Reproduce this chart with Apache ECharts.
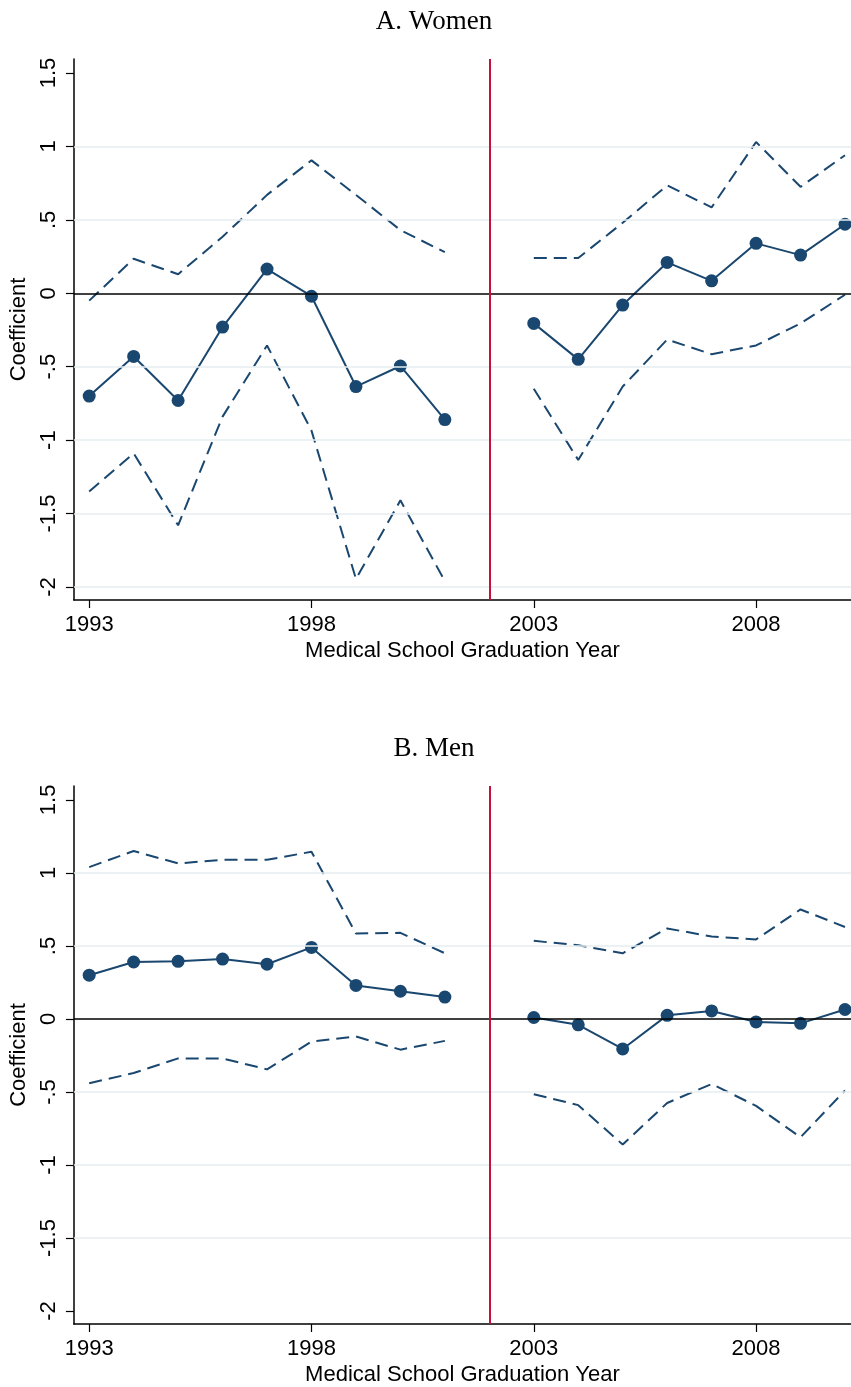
<!DOCTYPE html>
<html>
<head>
<meta charset="utf-8">
<script src="https://cdn.jsdelivr.net/npm/echarts@6/dist/echarts.min.js"></script>
<style>
html,body{margin:0;padding:0;background:#fff;}
#chart{width:851px;height:1387px;}
</style>
</head>
<body>
<div id="chart"></div>
<script>
// ---- data ----
const years = [1993,1994,1995,1996,1997,1998,1999,2000,2001,2002,2003,2004,2005,2006,2007,2008,2009,2010];
const womenCoef  = [-0.70,-0.43,-0.73,-0.23,0.165,-0.02,-0.635,-0.495,-0.86,null,-0.205,-0.45,-0.08,0.21,0.085,0.34,0.26,0.47];
const womenUpper = [-0.05,0.235,0.13,0.385,0.67,0.905,0.67,0.43,0.28,null,0.24,0.24,0.48,0.735,0.585,1.03,0.725,0.94];
const womenLower = [-1.35,-1.09,-1.58,-0.84,-0.355,-0.935,-1.945,-1.41,-1.96,null,-0.65,-1.135,-0.635,-0.315,-0.415,-0.355,-0.205,-0.01];
const menCoef  = [0.30,0.39,0.395,0.41,0.375,0.49,0.23,0.19,0.15,null,0.01,-0.04,-0.205,0.025,0.055,-0.02,-0.03,0.065];
const menUpper = [1.04,1.15,1.065,1.09,1.09,1.145,0.585,0.59,0.45,null,0.535,0.505,0.45,0.62,0.565,0.545,0.75,0.63];
const menLower = [-0.44,-0.37,-0.27,-0.27,-0.345,-0.155,-0.12,-0.21,-0.15,null,-0.515,-0.59,-0.86,-0.575,-0.445,-0.595,-0.81,-0.49];
const xTickValues = [1993,1998,2003,2008];
const yTickValues = [1.5,1,0.5,0,-0.5,-1,-1.5,-2];
const yTickLabels = ['1.5','1','.5','0','-.5','-1','-1.5','-2'];
const womenGridValues = [1,0.5,-0.5,-1,-1.5,-2];
const menGridValues = [1,0.5,-0.5,-1,-1.5];
const cutoffYear = 2002;
const panelTitles = ['A. Women','B. Men'];
const xAxisTitle = 'Medical School Graduation Year';
const yAxisTitle = 'Coefficient';

// ---- styling ----
const NAVY = '#1a476f';
const RED = '#c3103c';
const GRIDC = '#e6eef0';
const SANS = '"Liberation Sans", Arial, Helvetica, sans-serif';
const SERIF = '"Liberation Serif", "DejaVu Serif", serif';
const PANEL_TOPS = [59, 786];
const PANEL_H = 541;

const pairs = vals => years.map((y,i) => [y, vals[i]]);

function xAxisFor(idx){
  return {
    type:'value', gridIndex:idx, min:1992.656, max:2010.135,
    axisLine:{show:true, onZero:false, lineStyle:{color:'#000', width:1.5}},
    axisTick:{show:true, length:8, customValues:xTickValues, lineStyle:{color:'#000', width:1.2}},
    axisLabel:{show:true, customValues:xTickValues, margin:14, fontSize:22, fontFamily:SANS, color:'#000',
      formatter: v => String(v)},
    splitLine:{show:false},
    name:xAxisTitle, nameLocation:'middle', nameGap:40,
    nameTextStyle:{fontSize:22, fontFamily:SANS, color:'#000'}
  };
}
function yAxisFor(idx){
  return {
    type:'value', gridIndex:idx, min:-2.0885, max:1.5953,
    axisLine:{show:true, onZero:false, lineStyle:{color:'#000', width:1.5}},
    axisTick:{show:true, length:8, customValues:yTickValues, lineStyle:{color:'#000', width:1.2}},
    axisLabel:{show:true, customValues:yTickValues, rotate:90, margin:14, fontSize:22, fontFamily:SANS, color:'#000',
      formatter: v => { const k = yTickValues.findIndex(t => Math.abs(t - v) < 1e-6); return k >= 0 ? yTickLabels[k] : ''; }},
    splitLine:{show:false},
    name:yAxisTitle, nameLocation:'middle', nameGap:35,
    nameTextStyle:{fontSize:22, fontFamily:SANS, color:'#000'}
  };
}
function guideSeries(idx, gridVals){
  const data = gridVals.map(v => ({yAxis:v, lineStyle:{color:GRIDC, width:1.5, type:'solid'}}));
  data.push({yAxis:0, lineStyle:{color:'#000', width:1.5, type:'solid'}});
  data.push({xAxis:cutoffYear, lineStyle:{color:RED, width:2, type:'solid'}});
  return {
    type:'line', xAxisIndex:idx, yAxisIndex:idx, data:[], silent:true, z:1,
    markLine:{silent:true, symbol:['none','none'], label:{show:false}, animation:false, data:data}
  };
}
function ciSeries(idx, vals){
  return {type:'line', xAxisIndex:idx, yAxisIndex:idx, data:pairs(vals), showSymbol:false, symbol:'none',
    connectNulls:false, z:3, lineStyle:{color:NAVY, width:2, type:[13,7]}, animation:false};
}
function coefSeries(idx, vals){
  return {type:'line', xAxisIndex:idx, yAxisIndex:idx, data:pairs(vals), symbol:'circle', symbolSize:13,
    connectNulls:false, z:4, itemStyle:{color:NAVY}, lineStyle:{color:NAVY, width:2}, animation:false};
}

const chart = echarts.init(document.getElementById('chart'), null, {renderer:'canvas'});
chart.setOption({
  backgroundColor:'#fff',
  animation:false,
  title:[
    {text:panelTitles[0], left:429, top:3, textAlign:'center', textStyle:{fontFamily:SERIF, fontSize:27, fontWeight:'normal', color:'#000'}},
    {text:panelTitles[1], left:429, top:730, textAlign:'center', textStyle:{fontFamily:SERIF, fontSize:27, fontWeight:'normal', color:'#000'}}
  ],
  grid:[
    {left:73, right:0, top:PANEL_TOPS[0], height:PANEL_H, containLabel:false},
    {left:73, right:0, top:PANEL_TOPS[1], height:PANEL_H, containLabel:false}
  ],
  xAxis:[xAxisFor(0), xAxisFor(1)],
  yAxis:[yAxisFor(0), yAxisFor(1)],
  series:[
    guideSeries(0, womenGridValues),
    ciSeries(0, womenUpper), ciSeries(0, womenLower), coefSeries(0, womenCoef),
    guideSeries(1, menGridValues),
    ciSeries(1, menUpper), ciSeries(1, menLower), coefSeries(1, menCoef)
  ]
});
</script>
</body>
</html>
